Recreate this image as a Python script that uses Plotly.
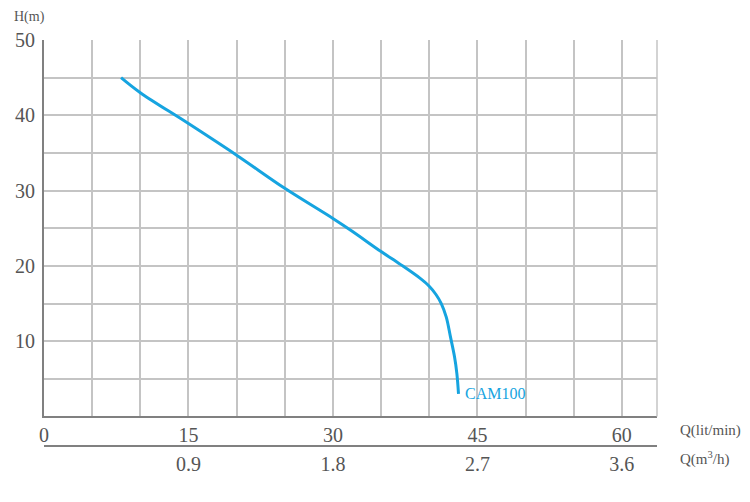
import plotly.graph_objects as go

# pump curve CAM100
q_lpm = [8, 10, 15, 20, 25, 30, 32, 35, 37, 39, 40, 40.7, 41.25, 41.77, 42.2, 42.63, 42.87, 43.04]
head_m = [45, 43, 38.9, 34.7, 30.3, 26.3, 24.6, 21.9, 20.2, 18.4, 17.3, 16.2, 15, 13.2, 10.6, 7.9, 5.7, 3.0]

x_ticks = [0, 15, 30, 45, 60]
y_ticks = [10, 20, 30, 40, 50]
m3h_ticks = [0.9, 1.8, 2.7, 3.6]

q_max = 63.65
txt = "#555555"
grid = "#c4c4c4"
axis = "#808080"
blue = "#16a4e0"
font = "Liberation Serif"

fig = go.Figure()
fig.add_trace(go.Scatter(x=q_lpm, y=head_m, mode="lines",
                         line=dict(color=blue, width=3, shape="spline", smoothing=1.0),
                         hoverinfo="skip", showlegend=False))
fig.add_trace(go.Scatter(x=[], y=[], xaxis="x2", yaxis="y", showlegend=False))

fig.add_annotation(x=q_lpm[-1], y=head_m[-1], xref="x", yref="y", text="CAM100", showarrow=False,
                   xanchor="left", yanchor="middle", xshift=4, font=dict(family=font, size=16, color=blue))
fig.add_annotation(x=1.035, y=0.037, xref="paper", yref="paper", text="Q(lit/min)", showarrow=False,
                   xanchor="left", yanchor="middle", font=dict(family=font, size=15, color=txt))
fig.add_annotation(x=1.035, y=-0.03, xref="paper", yref="paper", text="Q(m<sup>3</sup>/h)", showarrow=False,
                   xanchor="left", yanchor="middle", font=dict(family=font, size=15, color=txt))
fig.add_annotation(x=-0.052, y=1.057, xref="paper", yref="paper", text="H(m)", showarrow=False,
                   xanchor="left", yanchor="middle", font=dict(family=font, size=14, color=txt))

# right border of the grid
fig.add_shape(type="line", xref="paper", yref="paper", x0=1, x1=1, y0=0.0727, y1=1,
              line=dict(color=grid, width=1.5))

# page body has an 8px margin, so the figure is 8px smaller
fig.update_layout(
    width=742, height=494,
    margin=dict(l=36, r=93, t=32, b=56, autoexpand=False),
    paper_bgcolor="white", plot_bgcolor="white",
    font=dict(family=font, color=txt),
    xaxis=dict(range=[0, q_max], tickvals=x_ticks, showgrid=True, gridcolor=grid,
               gridwidth=1.5, showline=True, linecolor=axis, linewidth=2, zeroline=False,
               minor=dict(dtick=5, tick0=0, showgrid=True, gridcolor=grid, gridwidth=1.5),
               tickfont=dict(size=20, color=txt), anchor="y"),
    xaxis2=dict(range=[0, q_max * 0.06], tickvals=m3h_ticks, overlaying="x", anchor="free", position=0,
                side="bottom", showgrid=False, showline=True, linecolor=axis, linewidth=2, zeroline=False,
                tickfont=dict(size=20, color=txt)),
    yaxis=dict(range=[0, 50], domain=[0.0727, 1], tickvals=y_ticks, showgrid=True,
               gridcolor=grid, gridwidth=1.5, showline=True, linecolor=axis, linewidth=2, zeroline=False,
               minor=dict(dtick=5, tick0=0, showgrid=True, gridcolor=grid, gridwidth=1.5),
               tickfont=dict(size=20, color=txt), ticklabelstandoff=3),
)

fig.write_html("out.html")
